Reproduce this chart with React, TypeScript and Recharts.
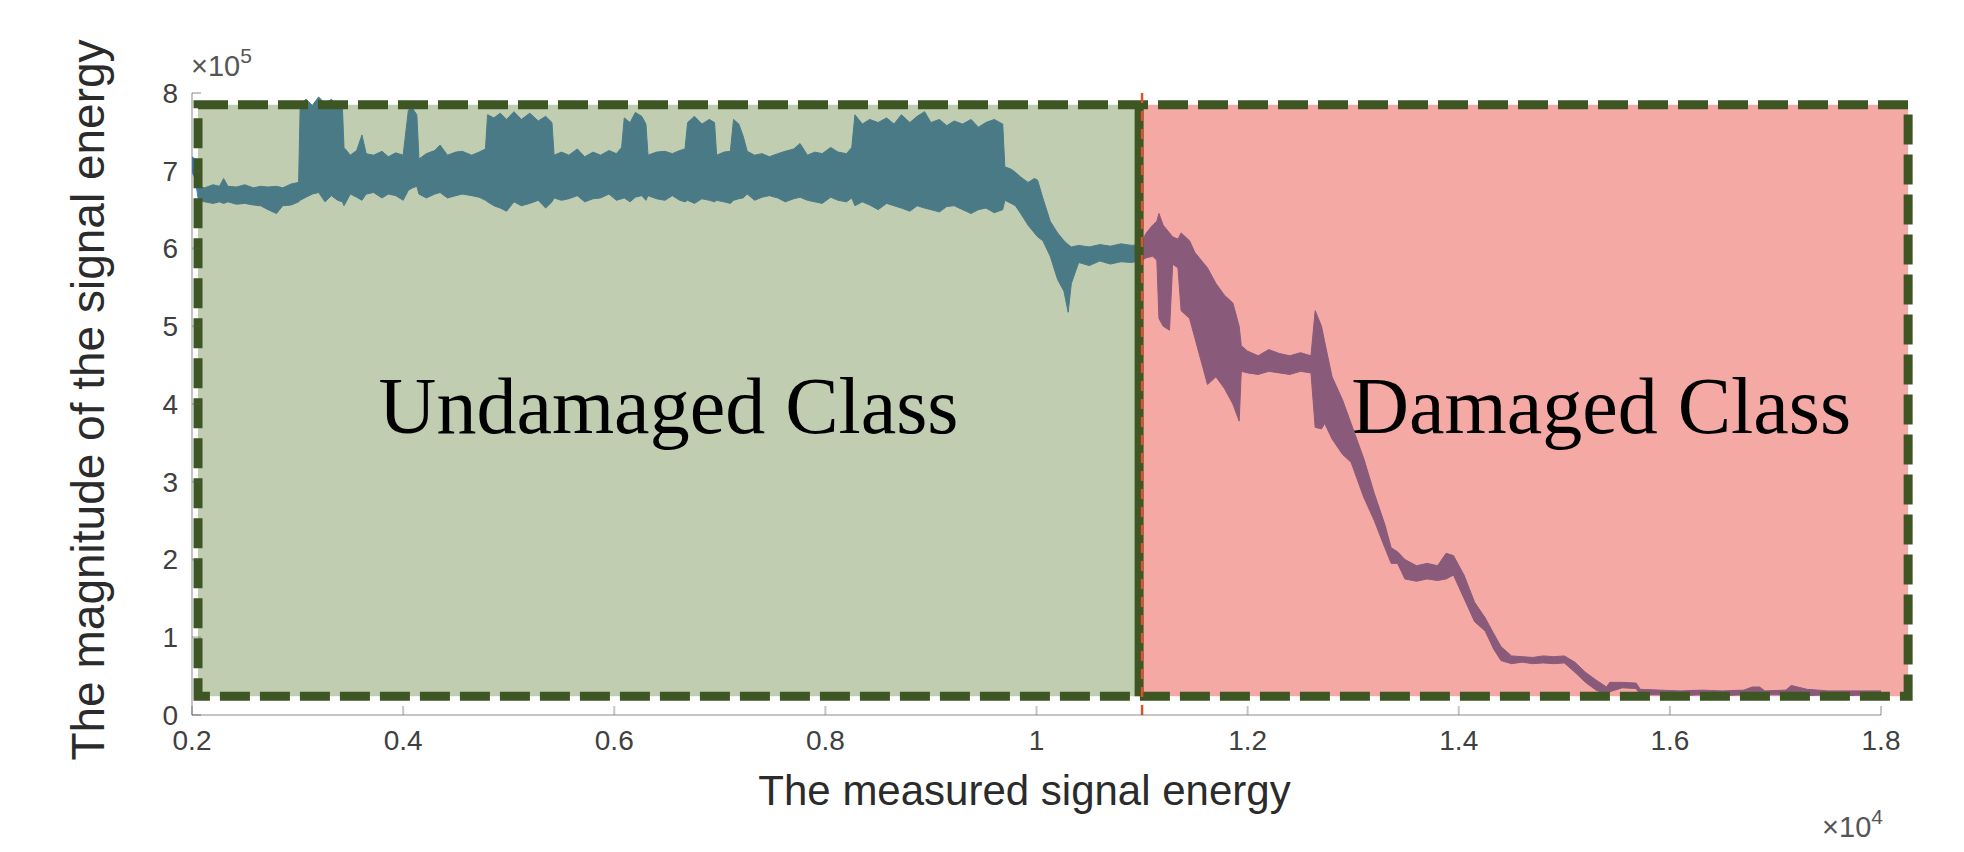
import React from 'react';
import {
  ComposedChart,
  Area,
  XAxis,
  YAxis,
  ReferenceArea,
  ReferenceLine,
} from 'recharts';

// ---- data (x = measured signal energy, band = [low, high] of magnitude in ×10^5) ----
const startBand: [number, number, number][] = [
  [2000, 6.98, 7.18],
  [2030, 6.9, 7.15],
  [2057, 6.65, 6.95],
];

const undamagedBand: [number, number, number][] = [
  [2057, 6.62, 6.8], [2120, 6.6, 6.78], [2200, 6.58, 6.82], [2260, 6.6, 6.8],
  [2300, 6.58, 6.9], [2340, 6.6, 6.8], [2420, 6.57, 6.79], [2500, 6.58, 6.82],
  [2580, 6.56, 6.78], [2650, 6.55, 6.8], [2720, 6.5, 6.79], [2800, 6.45, 6.8],
  [2860, 6.55, 6.78], [2940, 6.56, 6.83], [3010, 6.6, 6.85],
  [3025, 6.62, 7.85], [3080, 6.66, 7.92], [3140, 6.7, 7.84], [3200, 6.72, 7.95],
  [3260, 6.6, 7.86], [3320, 6.68, 7.92], [3380, 6.62, 7.84], [3425, 6.6, 7.8],
  [3440, 6.55, 7.3], [3500, 6.7, 7.2], [3560, 6.66, 7.26], [3610, 6.62, 7.46],
  [3650, 6.7, 7.22], [3720, 6.72, 7.2], [3800, 6.65, 7.25], [3860, 6.7, 7.18],
  [3930, 6.68, 7.23], [4000, 6.62, 7.2],
  [4050, 6.75, 7.78], [4090, 6.78, 7.8], [4130, 6.8, 7.72], [4150, 6.7, 7.15],
  [4220, 6.65, 7.22], [4300, 6.7, 7.26], [4350, 6.72, 7.33], [4420, 6.65, 7.2],
  [4500, 6.68, 7.24], [4560, 6.7, 7.25], [4650, 6.68, 7.2], [4720, 6.66, 7.24],
  [4780, 6.62, 7.28],
  [4800, 6.6, 7.72], [4860, 6.55, 7.68], [4920, 6.52, 7.74], [4980, 6.48, 7.66],
  [5050, 6.6, 7.76], [5120, 6.55, 7.66], [5200, 6.58, 7.74], [5280, 6.62, 7.64],
  [5350, 6.52, 7.7], [5410, 6.6, 7.62],
  [5430, 6.65, 7.2], [5500, 6.62, 7.24], [5570, 6.64, 7.2], [5650, 6.68, 7.28],
  [5720, 6.6, 7.18], [5800, 6.64, 7.24], [5870, 6.65, 7.2], [5950, 6.7, 7.26],
  [6020, 6.62, 7.22], [6070, 6.64, 7.3],
  [6095, 6.65, 7.68], [6150, 6.6, 7.62], [6200, 6.66, 7.75], [6260, 6.68, 7.7],
  [6300, 6.62, 7.6],
  [6320, 6.68, 7.2], [6400, 6.64, 7.24], [6480, 6.62, 7.25], [6550, 6.68, 7.22],
  [6620, 6.62, 7.26], [6670, 6.6, 7.28],
  [6695, 6.62, 7.62], [6760, 6.58, 7.7], [6830, 6.64, 7.6], [6900, 6.62, 7.66],
  [6950, 6.6, 7.62],
  [6970, 6.62, 7.2], [7040, 6.6, 7.24], [7100, 6.58, 7.25], [7130, 6.62, 7.66],
  [7180, 6.64, 7.6], [7220, 6.65, 7.45],
  [7260, 6.7, 7.25], [7330, 6.62, 7.2], [7400, 6.66, 7.22], [7470, 6.68, 7.18],
  [7550, 6.65, 7.22], [7620, 6.6, 7.25], [7700, 6.64, 7.28], [7760, 6.66, 7.35],
  [7830, 6.62, 7.2], [7900, 6.6, 7.24], [7970, 6.58, 7.22], [8050, 6.66, 7.3],
  [8120, 6.62, 7.24], [8200, 6.6, 7.22], [8250, 6.65, 7.3],
  [8280, 6.55, 7.72], [8350, 6.6, 7.6], [8420, 6.56, 7.66], [8500, 6.5, 7.62],
  [8580, 6.58, 7.68], [8650, 6.55, 7.6], [8720, 6.52, 7.72], [8800, 6.48, 7.62],
  [8870, 6.55, 7.7], [8940, 6.52, 7.76], [9000, 6.5, 7.62], [9080, 6.47, 7.66],
  [9150, 6.54, 7.58], [9220, 6.55, 7.64], [9300, 6.5, 7.6], [9380, 6.45, 7.66],
  [9450, 6.5, 7.56], [9520, 6.52, 7.62], [9600, 6.46, 7.66], [9680, 6.5, 7.6],
  [9700, 6.62, 7.05], [9760, 6.58, 7.02], [9800, 6.55, 6.98], [9850, 6.45, 6.92],
  [9920, 6.3, 6.85], [9980, 6.2, 6.9], [10010, 6.15, 6.88], [10060, 6.1, 6.65],
  [10130, 5.9, 6.35], [10200, 5.6, 6.2], [10260, 5.45, 6.1], [10300, 5.18, 6.05],
  [10330, 5.55, 6.02], [10400, 5.82, 6.04], [10500, 5.78, 6.02], [10600, 5.84, 6.05],
  [10700, 5.8, 6.03], [10800, 5.83, 6.06], [10900, 5.82, 6.04], [11000, 5.85, 6.05],
];

const damagedBand: [number, number, number][] = [
  [11000, 5.85, 6.1], [11040, 5.88, 6.2], [11100, 5.9, 6.3], [11140, 5.85, 6.35],
  [11160, 5.1, 6.45], [11200, 5.0, 6.3], [11260, 4.95, 6.2], [11290, 5.8, 6.15],
  [11340, 5.75, 6.12], [11370, 5.2, 6.2], [11450, 5.1, 6.1], [11500, 4.85, 5.95],
  [11620, 4.25, 5.75], [11700, 4.35, 5.55], [11780, 4.2, 5.4], [11860, 4.0, 5.3],
  [11920, 3.78, 5.0], [11940, 4.42, 4.75], [12000, 4.4, 4.68], [12100, 4.38, 4.62],
  [12200, 4.42, 4.7], [12300, 4.4, 4.65], [12400, 4.38, 4.62], [12500, 4.42, 4.66],
  [12600, 4.4, 4.62], [12640, 3.7, 5.2], [12700, 3.68, 5.0], [12730, 3.75, 4.8],
  [12800, 3.55, 4.35], [12900, 3.35, 4.05], [12980, 3.25, 3.75], [13100, 2.8, 3.3],
  [13200, 2.5, 2.85], [13300, 2.15, 2.45], [13360, 1.95, 2.15], [13420, 1.95, 2.1],
  [13490, 1.75, 2.0], [13600, 1.72, 1.92], [13700, 1.75, 1.95], [13800, 1.73, 1.92],
  [13880, 1.75, 2.08], [13950, 1.8, 2.05], [14050, 1.5, 1.8], [14150, 1.2, 1.45],
  [14250, 1.08, 1.25], [14330, 0.85, 1.05], [14400, 0.7, 0.88], [14500, 0.66, 0.76],
  [14600, 0.68, 0.75], [14700, 0.66, 0.74], [14800, 0.67, 0.76], [14900, 0.66, 0.75],
  [15000, 0.67, 0.76], [15100, 0.55, 0.68], [15200, 0.42, 0.55], [15300, 0.32, 0.45],
  [15400, 0.26, 0.36], [15430, 0.3, 0.42], [15550, 0.35, 0.42], [15680, 0.34, 0.41],
  [15720, 0.26, 0.33], [15900, 0.26, 0.32], [16100, 0.25, 0.31], [16300, 0.26, 0.32],
  [16500, 0.25, 0.31], [16700, 0.26, 0.32], [16780, 0.27, 0.36], [16850, 0.27, 0.36],
  [16900, 0.26, 0.31], [17100, 0.26, 0.32], [17150, 0.26, 0.38], [17300, 0.25, 0.33],
  [17500, 0.26, 0.31], [17700, 0.25, 0.31], [17900, 0.26, 0.31], [18000, 0.25, 0.31],
];

const xTicks = [2000, 4000, 6000, 8000, 10000, 12000, 14000, 16000, 18000];
const xTickLabels = ['0.2', '0.4', '0.6', '0.8', '1', '1.2', '1.4', '1.6', '1.8'];
const yTicks = [0, 1, 2, 3, 4, 5, 6, 7, 8];
const yTickLabels = ['0', '1', '2', '3', '4', '5', '6', '7', '8'];

// class regions (x range and y range of the boxed areas) and threshold
const undamagedRegion = { x1: 2057, x2: 10972 };
const damagedRegion = { x1: 10972, x2: 18257 };
const regionY = { y1: 0.24, y2: 7.85 };
const threshold = 11000;

const toRows = (band: [number, number, number][]) =>
  band.map(([x, lo, hi]) => ({ x, range: [lo, hi] }));

const FONT = '"Liberation Sans", Arial, Helvetica, sans-serif';
const SERIF = '"Liberation Serif", "Times New Roman", serif';
const AXIS = 'rgba(90,90,90,0.35)';
const DARK_GREEN = '#3d5623';

const xLabelsFmt = (v: number) => xTickLabels[xTicks.indexOf(v)] ?? '';
const yLabelsFmt = (v: number) => yTickLabels[yTicks.indexOf(v)] ?? '';

const XLabel = (props: any) => {
  const { x, y, width, height } = props.viewBox;
  return (
    <g>
      <text x={x + width / 2 - 12} y={y + height + 50} textAnchor="middle" fontSize={42} fontFamily={FONT} fill="#2b2b2b">
        The measured signal energy
      </text>
      <text x={x + width + 2} y={y + height + 82} textAnchor="end" fontSize={29} fontFamily={FONT} fill="#555">
        ×10<tspan dy={-13} fontSize={21}>4</tspan>
      </text>
    </g>
  );
};

const YLabel = (props: any) => {
  const { x, y, width, height } = props.viewBox;
  const cx = x - 8;
  const cy = y + height / 2 - 4;
  return (
    <g>
      <text x={cx} y={cy} transform={`rotate(-90 ${cx} ${cy})`} textAnchor="middle" fontSize={46} fontFamily={FONT} fill="#2b2b2b">
        The magnitude of the signal energy
      </text>
      <text x={x + width - 1} y={y - 17} textAnchor="start" fontSize={29} fontFamily={FONT} fill="#555">
        ×10<tspan dy={-13} fontSize={21}>5</tspan>
      </text>
    </g>
  );
};

const UndamagedLabel = (props: any) => {
  const { x, y, width, height } = props.viewBox;
  return (
    <text x={x + width / 2} y={y + height / 2 + 32} textAnchor="middle" fontSize={80} fontFamily={SERIF} fill="#000">
      Undamaged Class
    </text>
  );
};

const DamagedLabel = (props: any) => {
  const { x, y, width, height } = props.viewBox;
  return (
    <text x={x + width - 57} y={y + height / 2 + 32} textAnchor="end" fontSize={80} fontFamily={SERIF} fill="#000">
      Damaged Class
    </text>
  );
};

export default function App() {
  return (
    <div style={{ width: 1948, height: 836, background: '#fff' }}>
      <ComposedChart width={1948} height={836} margin={{ top: 85, right: 75, bottom: 89, left: 104 }}>
        <XAxis
          type="number"
          dataKey="x"
          domain={[2000, 18000]}
          ticks={xTicks}
          tickFormatter={xLabelsFmt}
          allowDataOverflow
          height={40}
          stroke={AXIS}
          strokeWidth={2}
          tickSize={-9}
          tickMargin={24}
          tick={{ fontSize: 28, fontFamily: FONT, fill: '#404040' }}
          label={<XLabel />}
        />
        <XAxis
          xAxisId="top"
          orientation="top"
          type="number"
          domain={[2000, 18000]}
          ticks={xTicks}
          tickFormatter={() => ''}
          height={0}
          stroke={AXIS}
          strokeWidth={2}
          tickSize={-9}
        />
        <YAxis
          type="number"
          domain={[0, 8]}
          ticks={yTicks}
          tickFormatter={yLabelsFmt}
          width={80}
          stroke={AXIS}
          strokeWidth={2}
          tickSize={-9}
          tickMargin={23}
          tick={{ fontSize: 28, fontFamily: FONT, fill: '#404040' }}
          label={<YLabel />}
        />
        <YAxis
          yAxisId="right"
          orientation="right"
          type="number"
          domain={[0, 8]}
          ticks={yTicks}
          tickFormatter={() => ''}
          width={0}
          stroke={AXIS}
          strokeWidth={2}
          tickSize={-9}
        />

        <ReferenceArea
          x1={undamagedRegion.x1}
          x2={undamagedRegion.x2}
          y1={regionY.y1}
          y2={regionY.y2}
          fill="#c0cdb0"
          fillOpacity={1}
          stroke="none"
          ifOverflow="visible"
          label={UndamagedLabel}
        />
        <ReferenceArea
          x1={damagedRegion.x1}
          x2={damagedRegion.x2}
          y1={regionY.y1}
          y2={regionY.y2}
          fill="#f5a9a5"
          fillOpacity={1}
          stroke="none"
          ifOverflow="visible"
          label={DamagedLabel}
        />

        <Area
          data={toRows(startBand)}
          dataKey="range"
          type="linear"
          fill="#3c82d2"
          fillOpacity={1}
          stroke="#3c82d2"
          strokeWidth={1}
          isAnimationActive={false}
          dot={false}
          activeDot={false}
        />
        <Area
          data={toRows(undamagedBand)}
          dataKey="range"
          type="linear"
          fill="#4b7a87"
          fillOpacity={1}
          stroke="#4b7a87"
          strokeWidth={1}
          isAnimationActive={false}
          dot={false}
          activeDot={false}
        />
        <Area
          data={toRows(damagedBand)}
          dataKey="range"
          type="linear"
          fill="#8a5a7a"
          fillOpacity={1}
          stroke="#8a5a7a"
          strokeWidth={1}
          isAnimationActive={false}
          dot={false}
          activeDot={false}
        />

        <ReferenceLine
          segment={[
            { x: undamagedRegion.x2, y: regionY.y1 },
            { x: undamagedRegion.x2, y: regionY.y2 },
          ]}
          stroke={DARK_GREEN}
          strokeWidth={9}
          ifOverflow="visible"
        />
        <ReferenceLine
          x={threshold}
          stroke="#e0502c"
          strokeWidth={2.5}
          strokeDasharray="10 8"
          ifOverflow="visible"
        />
        <ReferenceArea
          x1={undamagedRegion.x1}
          x2={damagedRegion.x2}
          y1={regionY.y1}
          y2={regionY.y2}
          fill="none"
          fillOpacity={0}
          stroke={DARK_GREEN}
          strokeWidth={9}
          strokeDasharray="30 10"
          ifOverflow="visible"
        />
      </ComposedChart>
    </div>
  );
}
